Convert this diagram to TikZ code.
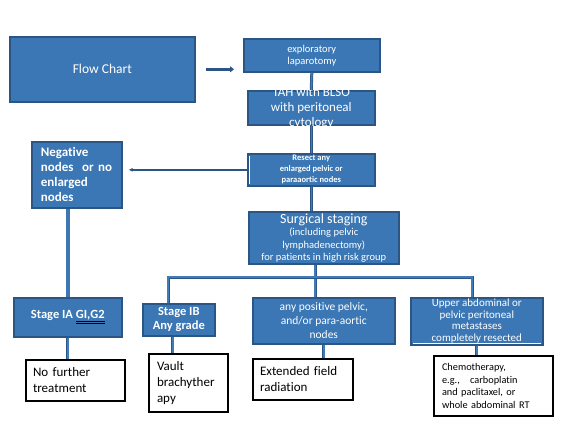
\documentclass[tikz,border=0pt]{standalone}
\usepackage{fontspec}
\setmainfont{Carlito}[Ligatures=NoCommon]
\usetikzlibrary{arrows.meta,positioning,calc,shadows}
\definecolor{boxfill} {HTML}{3A77B4}
\definecolor{boxedge} {HTML}{2A5584}
\definecolor{linkfill}{HTML}{3F7CB8}
\newcommand{\fsz}[2]{\fontsize{#1}{#2}\selectfont}
\newcommand{\dblul}[1]{{\color{black}\underline{\underline{\color{white}#1}}}}
\tikzset{
  bluebox/.style  ={draw=boxedge, fill=boxfill, line width=1.6pt, text=white,
                    align=center, inner sep=1pt, anchor=north west},
  whitebox/.style ={draw=black, fill=white, line width=2pt, text=black,
                    align=left, inner xsep=7pt, inner ysep=2pt, anchor=north west},
  link/.style     ={draw=boxedge, double=linkfill, line width=0.7pt, double distance=1.6pt},
  thicklink/.style={draw=boxfill, line width=4pt},
  flowarr/.style  ={-{Triangle[length=4pt,width=6pt]}, draw=boxedge, line width=2.6pt},
  negarr/.style   ={-{Latex[length=4pt,width=4pt]}, draw=boxedge, line width=1.6pt},
}

\begin{document}
\begin{tikzpicture}[x=1pt,y=-1pt]
  \useasboundingbox (0,0) rectangle (569,437);

  % top row
  \node[bluebox,minimum width=185pt,minimum height=65pt,font=\fsz{13.5}{16}] (flow) at (9,36) {Flow Chart};
  \node[bluebox,minimum width=136pt,minimum height=33pt,font=\fsz{10.5}{12}] (explap) at (243,38) {exploratory\\laparotomy};
  \node[bluebox,minimum width=127pt,minimum height=34pt] (tah) at (247,90) {};
  \begin{scope}
    \clip (tah.south west) rectangle (tah.north east);
    \node[text=white,align=center,font=\fsz{13}{15}] (tahtext) at (tah.center) {TAH with BLSO\\with peritoneal\\cytology};
  \end{scope}
  \node[bluebox,minimum width=127pt,minimum height=32pt,font=\fsz{8.5}{11}\bfseries] (resect) at (247,153) {Resect any\\enlarged pelvic or\\paraaortic nodes};
  \draw[white,line width=0.8pt] ($(resect.north west)+(2.5,3)$) -- ($(resect.south west)+(2.5,-3)$);
  \node[bluebox,text width=72pt,inner xsep=9pt,minimum height=66pt,align=left,font=\fsz{13}{15}\bfseries,
        drop shadow={shadow xshift=1.5pt,shadow yshift=-1.5pt,fill=boxedge}] (neg) at (31,141) {Negative\\nodes\ \ or no\\enlarged\\nodes};
  \node[bluebox,minimum width=150pt,minimum height=52pt,font=\fsz{10.5}{12.5}] (surg) at (248,211)
    {{\fsz{14}{15}Surgical staging}\\(including pelvic\\lymphadenectomy)\\for patients in high risk group};

  % second row
  \node[bluebox,minimum width=108pt,minimum height=39pt,font=\fsz{12.5}{15}\bfseries] (ia) at (13,297) {Stage IA \dblul{GI,G2}};
  \node[bluebox,minimum width=72pt,minimum height=32pt,font=\fsz{12.5}{14}\bfseries] (ib) at (142,303) {Stage IB\\Any grade};
  \node[bluebox,minimum width=142pt,minimum height=46pt,font=\fsz{11.5}{14}] (anypos) at (252,297) {any positive pelvic,\\and/or para-aortic\\nodes};
  \node[bluebox,minimum width=132pt,minimum height=47pt,font=\fsz{11}{11.5}] (upper) at (410,297) {Upper abdominal or\\pelvic peritoneal\\metastases\\completely resected};
  \draw[white,line width=0.8pt] ($(upper.south west)+(3,-2.5)$) -- ($(upper.south east)+(-3,-2.5)$);

  % treatments
  \node[whitebox,text width=85pt,minimum height=41pt,font=\fsz{13}{16}] (nofurther) at (25,359) {No further\\treatment};
  \node[whitebox,text width=63pt,inner xsep=8pt,minimum height=58pt,font=\fsz{13}{16}] (vault) at (148,353) {Vault\\brachyther\\apy};
  \node[whitebox,text width=86pt,minimum height=41pt,font=\fsz{13}{16}] (extended) at (252,358) {Extended field\\radiation};
  \node[whitebox,text width=103pt,inner xsep=8pt,minimum height=60pt,font=\fsz{10.3}{12.5}] (chemo) at (433,355)
    {Chemotherapy,\\e.g.,\ \ \ carboplatin\\and paclitaxel, or\\whole abdominal RT};

  % connectors
  \draw[flowarr] ($(flow.east)+(10,0)$) -- ($(flow.east -| explap.west)+(-9,0)$);
  \draw[link] (explap.south) -- (tah.north);
  \draw[link] (tah.south) -- (resect.north);
  \draw[link] (resect.south) -- (resect.south |- surg.north);
  \draw[negarr] (resect.west) -- ($(resect.west -| neg.east)+(6,0)$);
  \draw[thicklink] (ia.north |- neg.south) -- (ia.north);

  \coordinate (busL) at (168,277);
  \coordinate (busM) at (315,277);
  \coordinate (busR) at (472,277);
  \draw[link] (busM |- surg.south) -- (busM |- anypos.north);
  \draw[link] (busL |- ib.north) -- (busL) -- (busR) -- (busR |- upper.north);

  \path (ib.south) ++(-6,0) coordinate (ibstub);
  \draw[link] (ia.south) -- (ia.south |- nofurther.north);
  \draw[link] (ibstub) -- (ibstub |- vault.north);
  \draw[link] (anypos.south) -- (anypos.south |- extended.north);
  \draw[link] (upper.south) -- (upper.south |- chemo.north);
\end{tikzpicture}
\end{document}
